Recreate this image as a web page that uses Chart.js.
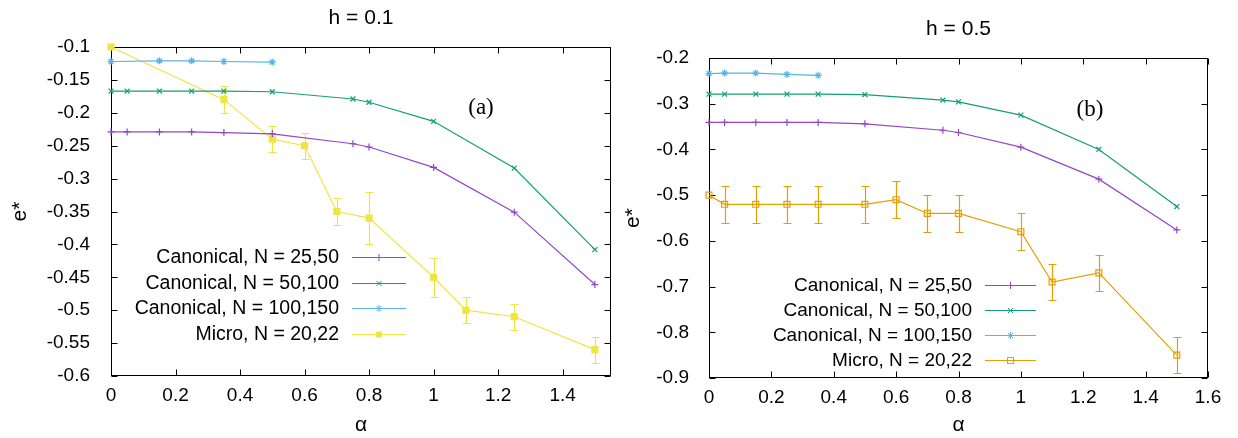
<!DOCTYPE html>
<html>
<head>
<meta charset="utf-8">
<script src="https://cdn.jsdelivr.net/npm/chart.js@4.4.1/dist/chart.umd.min.js"></script>
<style>
  html, body { margin: 0; padding: 0; background: #fff; }
  #wrap { position: relative; width: 1238px; height: 438px; }
  canvas { position: absolute; top: 0; }
</style>
</head>
<body>
<div id="wrap">
  <canvas id="left" width="620" height="438" style="left:0"></canvas>
  <canvas id="right" width="618" height="438" style="left:620px"></canvas>
</div>
<script>
// panel (a), h = 0.1
const alphaCanonA = [0, 0.05, 0.15, 0.25, 0.35, 0.5, 0.75, 0.8, 1, 1.25, 1.5];
const canon25A = [-0.229, -0.229, -0.229, -0.229, -0.230, -0.232, -0.247, -0.252, -0.283, -0.351, -0.461];
const canon50A = [-0.167, -0.167, -0.167, -0.167, -0.167, -0.168, -0.179, -0.184, -0.213, -0.284, -0.408];
const alphaCanon100A = [0, 0.15, 0.25, 0.35, 0.5];
const canon100A = [-0.122, -0.121, -0.121, -0.122, -0.123];
const alphaMicroA = [0, 0.35, 0.5, 0.6, 0.7, 0.8, 1, 1.1, 1.25, 1.5];
const microA = [-0.1, -0.18, -0.24, -0.25, -0.35, -0.36, -0.45, -0.50, -0.51, -0.56];
const microErrA = [0, 0.02, 0.02, 0.02, 0.02, 0.04, 0.03, 0.02, 0.02, 0.02];

// panel (b), h = 0.5
const alphaCanonB = [0, 0.05, 0.15, 0.25, 0.35, 0.5, 0.75, 0.8, 1, 1.25, 1.5];
const canon25B = [-0.341, -0.341, -0.341, -0.341, -0.341, -0.344, -0.358, -0.363, -0.395, -0.465, -0.576];
const canon50B = [-0.279, -0.279, -0.279, -0.279, -0.279, -0.280, -0.292, -0.296, -0.325, -0.400, -0.525];
const alphaCanon100B = [0, 0.05, 0.15, 0.25, 0.35];
const canon100B = [-0.234, -0.233, -0.233, -0.236, -0.238];
const alphaMicroB = [0, 0.05, 0.15, 0.25, 0.35, 0.5, 0.6, 0.7, 0.8, 1, 1.1, 1.25, 1.5];
const microB = [-0.50, -0.52, -0.52, -0.52, -0.52, -0.52, -0.51, -0.54, -0.54, -0.58, -0.69, -0.67, -0.85];
const microErrB = [0, 0.04, 0.04, 0.04, 0.04, 0.04, 0.04, 0.04, 0.04, 0.04, 0.04, 0.04, 0.04];

const labels = ['Canonical, N = 25,50', 'Canonical, N = 50,100', 'Canonical, N = 100,150', 'Micro, N = 20,22'];

const PURPLE = '#9446c6';
const GREEN = '#139f76';
const BLUE = '#56b4e9';
const YELLOW = '#f0e442';
const ORANGE = '#e69f00';

Chart.defaults.font.family = '"Liberation Sans", Arial, sans-serif';
Chart.defaults.font.size = 19;
Chart.defaults.color = '#000';

const pts = (xs, ys) => xs.map((x, i) => ({ x: x, y: ys[i] }));
const fmt = v => (+Number(v).toFixed(2)).toString();

function drawMarker(ctx, style, x, y, r, color, fill) {
  ctx.save();
  ctx.strokeStyle = color;
  ctx.lineWidth = 1;
  ctx.beginPath();
  if (style === 'rect') {
    const s = r * Math.SQRT1_2;
    if (fill) { ctx.fillStyle = color; ctx.fillRect(x - s, y - s, 2 * s, 2 * s); }
    else ctx.strokeRect(x - s, y - s, 2 * s, 2 * s);
  } else {
    if (style === 'cross' || style === 'star') {
      ctx.moveTo(x - r, y); ctx.lineTo(x + r, y);
      ctx.moveTo(x, y - r); ctx.lineTo(x, y + r);
    }
    if (style === 'crossRot' || style === 'star') {
      const d = r * Math.SQRT1_2;
      ctx.moveTo(x - d, y - d); ctx.lineTo(x + d, y + d);
      ctx.moveTo(x - d, y + d); ctx.lineTo(x + d, y - d);
    }
    ctx.stroke();
  }
  ctx.restore();
}

// error bars, drawn through the chart scales
const errorBars = {
  id: 'errorBars',
  beforeDatasetsDraw(chart) {
    const { ctx, scales: { x, y } } = chart;
    chart.data.datasets.forEach(ds => {
      if (!ds.errors) return;
      ctx.save();
      ctx.strokeStyle = ds.borderColor;
      ctx.lineWidth = 1.2;
      ds.data.forEach((p, j) => {
        const e = ds.errors[j];
        if (!e) return;
        const px = Math.round(x.getPixelForValue(p.x)) + 0.5;
        const t = Math.round(y.getPixelForValue(p.y + e)) + 0.5;
        const b = Math.round(y.getPixelForValue(p.y - e)) + 0.5;
        ctx.beginPath();
        ctx.moveTo(px, t); ctx.lineTo(px, b);
        ctx.moveTo(px - 4, t); ctx.lineTo(px + 4, t);
        ctx.moveTo(px - 4, b); ctx.lineTo(px + 4, b);
        ctx.stroke();
      });
      ctx.restore();
    });
  }
};

// gnuplot style border with inward ticks on all four sides
const frame = {
  id: 'frame',
  beforeDatasetsDraw(chart) {
    const { ctx, chartArea: a, scales: { x, y } } = chart;
    const L = Math.round(a.left) + 0.5, R = Math.round(a.right) - 0.5;
    const T = Math.round(a.top) + 0.5, B = Math.round(a.bottom) - 0.5;
    const len = 6;
    ctx.save();
    ctx.strokeStyle = '#000';
    ctx.lineWidth = 1;
    ctx.beginPath();
    x.ticks.forEach(t => {
      const px = Math.round(x.getPixelForValue(t.value)) + 0.5;
      ctx.moveTo(px, B); ctx.lineTo(px, B - len);
      ctx.moveTo(px, T); ctx.lineTo(px, T + len);
    });
    y.ticks.forEach(t => {
      const py = Math.round(y.getPixelForValue(t.value)) + 0.5;
      ctx.moveTo(L, py); ctx.lineTo(L + len, py);
      ctx.moveTo(R, py); ctx.lineTo(R - len, py);
    });
    ctx.stroke();
    ctx.strokeRect(L, T, R - L, B - T);
    ctx.restore();
  }
};

// title, panel tag and the key
const panelText = {
  id: 'panelText',
  afterDraw(chart, args, o) {
    const { ctx, chartArea: a } = chart;
    ctx.save();
    ctx.fillStyle = '#000';
    ctx.textAlign = 'center';
    ctx.textBaseline = 'middle';
    ctx.font = '21px "Liberation Sans", Arial, sans-serif';
    ctx.fillText(o.title, (a.left + a.right) / 2, o.titleY);
    ctx.font = '23px "Liberation Serif", "Times New Roman", serif';
    ctx.fillText(o.tag, o.tagX, o.tagY);
    ctx.font = o.keyFont + 'px "Liberation Sans", Arial, sans-serif';
    ctx.textAlign = 'right';
    chart.data.datasets.forEach((ds, i) => {
      const yy = o.keyY + i * o.keyDy;
      ctx.fillStyle = '#000';
      ctx.fillText(ds.label, o.keyTextX, yy + 1);
      ctx.strokeStyle = ds.borderColor;
      ctx.lineWidth = 1.2;
      ctx.beginPath();
      ctx.moveTo(o.keyX1, Math.round(yy) + 0.5);
      ctx.lineTo(o.keyX2, Math.round(yy) + 0.5);
      ctx.stroke();
      drawMarker(ctx, ds.pointStyle, (o.keyX1 + o.keyX2) / 2, Math.round(yy) + 0.5,
        ds.pointRadius, ds.borderColor, ds.backgroundColor !== 'rgba(0,0,0,0)');
    });
    ctx.restore();
  }
};

function series(label, data, color, style, radius, fill, errors) {
  return {
    label: label,
    data: data,
    showLine: true,
    borderColor: color,
    backgroundColor: fill ? color : 'rgba(0,0,0,0)',
    borderWidth: 1.2,
    pointStyle: style,
    pointRadius: radius,
    pointBorderWidth: 1.2,
    pointHoverRadius: radius,
    clip: false,
    errors: errors
  };
}

function makeChart(id, datasets, p) {
  return new Chart(document.getElementById(id), {
    type: 'scatter',
    data: { datasets: datasets },
    plugins: [frame, errorBars, panelText],
    options: {
      responsive: false,
      animation: false,
      devicePixelRatio: 1,
      layout: { padding: { top: p.top, right: p.right, left: 0, bottom: 0 } },
      plugins: {
        legend: { display: false },
        tooltip: { enabled: false },
        panelText: p.text
      },
      scales: {
        x: {
          type: 'linear',
          min: 0, max: p.xMax,
          grid: { display: false },
          border: { display: false },
          ticks: { stepSize: 0.2, includeBounds: false, padding: 0, maxRotation: 0, autoSkip: false, callback: fmt },
          title: { display: true, text: 'α', font: { size: 21 }, padding: { top: 0, bottom: 0 } },
          afterFit: s => { s.height = p.xHeight; }
        },
        y: {
          type: 'linear',
          min: p.yMin, max: p.yMax,
          grid: { display: false },
          border: { display: false },
          ticks: { stepSize: p.yStep, includeBounds: false, padding: p.yPad, autoSkip: false, callback: fmt },
          title: { display: true, text: 'e*', font: { size: 21 }, padding: { top: p.yTitlePad, bottom: 0 } },
          afterFit: s => { s.width = p.yWidth; }
        }
      }
    }
  });
}

makeChart('left', [
  series(labels[0], pts(alphaCanonA, canon25A), PURPLE, 'cross', 3.5, true),
  series(labels[1], pts(alphaCanonA, canon50A), GREEN, 'crossRot', 3.5, true),
  series(labels[2], pts(alphaCanon100A, canon100A), BLUE, 'star', 3.5, true),
  series(labels[3], pts(alphaMicroA, microA), YELLOW, 'rect', 4.2, true, microErrA)
], {
  top: 47, right: 9, xHeight: 62, yWidth: 111, xMax: 1.55,
  yMin: -0.6, yMax: -0.1, yStep: 0.05, yPad: 13, yTitlePad: 8,
  text: { title: 'h = 0.1', titleY: 18, tag: '(a)', tagX: 481, tagY: 108, keyFont: 19.5,
          keyTextX: 339, keyX1: 352, keyX2: 406, keyY: 257, keyDy: 25.5 }
});

makeChart('right', [
  series(labels[0], pts(alphaCanonB, canon25B), PURPLE, 'cross', 3.5, true),
  series(labels[1], pts(alphaCanonB, canon50B), GREEN, 'crossRot', 3.5, true),
  series(labels[2], pts(alphaCanon100B, canon100B), BLUE, 'star', 3.5, true),
  series(labels[3], pts(alphaMicroB, microB), ORANGE, 'rect', 4.2, false, microErrB)
], {
  top: 58, right: 30, xHeight: 60, yWidth: 89, xMax: 1.6,
  yMin: -0.9, yMax: -0.2, yStep: 0.1, yPad: 12, yTitlePad: 1,
  text: { title: 'h = 0.5', titleY: 29, tag: '(b)', tagX: 470, tagY: 110, keyFont: 19,
          keyTextX: 352, keyX1: 365, keyX2: 416, keyY: 285, keyDy: 25 }
});
</script>
</body>
</html>
